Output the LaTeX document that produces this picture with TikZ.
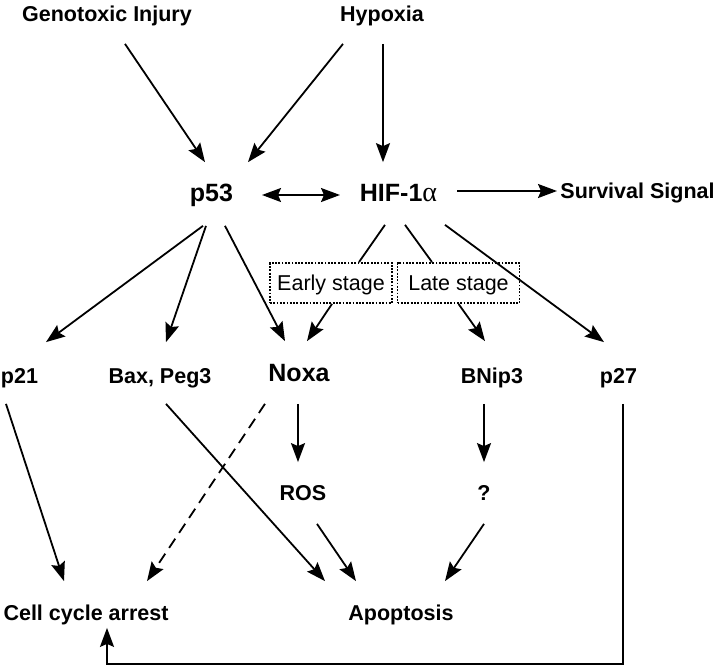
\documentclass[tikz,border=0pt]{standalone}
\usepackage{fontspec}
\setmainfont{Liberation Sans}
\newfontfamily\greekfont{Liberation Serif}
\usetikzlibrary{arrows.meta, positioning}

\begin{document}
\begin{tikzpicture}[x=1pt, y=-1pt, ->, >={Stealth[length=19pt,width=14pt,inset=3pt]}, line width=1.8pt,
    base node/.style={inner sep=0pt, text height=15.4pt, text depth=0pt, font=\fontsize{21.5}{24}\selectfont\bfseries},
    main node/.style={inner sep=0pt, text height=17.9pt, text depth=0pt, font=\fontsize{25}{28}\selectfont\bfseries},
    stage node/.style={draw, dash pattern=on 1.8pt off 1.5pt, line width=1.8pt, minimum width=122pt, minimum height=40pt,
        inner sep=0pt, text height=15.4pt, text depth=0pt, font=\fontsize{21.5}{24}\selectfont}]

\useasboundingbox (0,0) rectangle (720,667);

\node[base node]   (gen)                                       at (107,13.3)    {Genotoxic Injury};
\node[base node]   (hyp)   [right of=gen, node distance=275pt]                   {Hypoxia};
\node[main node]   (p53)                                       at (211.5,193)   {p53};
\node[main node]   (hif)   [right of=p53, node distance=187pt]                   {HIF-1{\greekfont\mdseries\fontsize{28}{30}\selectfont α}};
\node[base node]   (surv)                                      at (637.5,190.3) {Survival Signal};
\node[stage node]  (early)                                     at (331,283)     {Early stage};
\node[stage node]  (late)  [right of=early, node distance=127.5pt]               {Late stage};
\node[base node]   (p21)                                       at (19.5,375.3)  {p21};
\node[base node]   (bax)   [right of=p21, node distance=140.5pt]                 {Bax, Peg3};
\node[main node]   (noxa)                                      at (299,373)     {Noxa};
\node[base node]   (bnip)                                      at (492,375.3)   {BNip3};
\node[base node]   (p27)   [right of=bnip, node distance=126.5pt]                {p27};
\node[base node]   (ros)                                       at (303,492.3)   {ROS};
\node[base node]   (q)     [right of=ros, node distance=181pt]                   {?};
\node[base node]   (cca)                                       at (86,612.3)    {Cell cycle arrest};
\node[base node]   (apo)   [right of=cca, node distance=315pt]                   {Apoptosis};

\path
([shift={(18,22)}]gen.south) edge ([shift={(-6.5,-21)}]p53.north)
([shift={(-39,22)}]hyp.south) edge ([shift={(36.5,-21)}]p53.north)
([shift={(1,22)}]hyp.south) edge ([shift={(-15.5,-21)}]hif.north)

([shift={(50.5,2)}]p53.center) edge[<->] ([shift={(-58.5,2)}]hif.center)
([shift={(58.5,-2)}]hif.center) edge ([shift={(-80.5,0.7)}]surv.center)

([shift={(-8.5,23)}]p53.south) edge ([shift={(26.5,-24.6)}]p21.north)
([shift={(-5.5,23)}]p53.south) edge ([shift={(6,-24.6)}]bax.north)
([shift={(13.5,23)}]p53.south) edge ([shift={(-14,-22)}]noxa.north)

([shift={(-13.5,22)}]hif.south) edge[-] ([shift={(28,0)}]early.north)
([shift={(6.5,22)}]hif.south) edge[-] ([shift={(-26.5,0)}]late.north)
([shift={(46.5,22)}]hif.south) edge ([shift={(-14.5,-24.6)}]p27.north)

([shift={(1,0)}]early.south) edge ([shift={(8,-22)}]noxa.north)
(late.south) edge ([shift={(-7,-25.6)}]bnip.north)

([shift={(-13.5,20)}]p21.south) edge ([shift={(-22,-22.6)}]cca.north)
([shift={(6,20)}]bax.south) edge ([shift={(-76,-22.6)}]apo.north)
([shift={(-34,21)}]noxa.south) edge[dash pattern=on 11pt off 7pt] ([shift={(61,-22.6)}]cca.north)
([shift={(-1,21)}]noxa.south) edge ([shift={(-5,-21.6)}]ros.north)
([shift={(-8,20)}]bnip.south) edge ([shift={(0,-21.6)}]q.north)

([shift={(14,23)}]ros.south) edge ([shift={(-45,-22.6)}]apo.north)
([shift={(0,23)}]q.south) edge ([shift={(44,-22.6)}]apo.north)
;

% p27 feeds back into cell cycle arrest
\draw ([shift={(4.5,20)}]p27.south) |- ([shift={(21,43)}]cca.south) -- ([shift={(21,7)}]cca.south);

\end{tikzpicture}
\end{document}
